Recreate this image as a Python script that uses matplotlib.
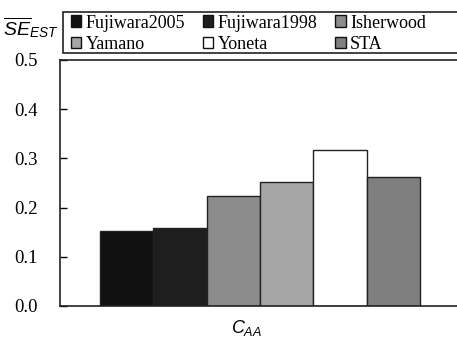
import matplotlib.pyplot as plt
from matplotlib.patches import Patch, Rectangle

# Données
methodes = ["Fujiwara2005", "Fujiwara1998", "Isherwood", "Yamano", "Yoneta", "STA"]
valeurs = [0.152, 0.159, 0.224, 0.253, 0.318, 0.263]
couleurs = ["#111111", "#1e1e1e", "#8c8c8c", "#a6a6a6", "#ffffff", "#7f7f7f"]
yticks = [0.0, 0.1, 0.2, 0.3, 0.4, 0.5]

plt.rcParams['mathtext.fontset'] = 'custom'
plt.rcParams['mathtext.it'] = 'Liberation Sans:italic'
plt.rcParams['mathtext.rm'] = 'Liberation Sans'

W, H = 457, 340
fig = plt.figure(figsize=(W / 100, H / 100), dpi=100)
# l'axe dépasse à droite de l'image (figure rognée)
ax = fig.add_axes([60 / W, 1 - 306 / H, (475 - 60) / W, (306 - 60) / H])

pos = list(range(len(methodes)))
ax.bar(pos, valeurs, width=1.0, color=couleurs, edgecolor="#222222", linewidth=1.0)

ax.set_xlim(-1.25, -1.25 + (475 - 60) / 53.33)
ax.set_ylim(0, 0.5)
ax.set_yticks(yticks)
ax.set_yticklabels([f"{v:.1f}" for v in yticks], family="Liberation Serif", fontsize=13.5)
ax.tick_params(axis='y', direction='in', length=5, width=1, pad=16)
ax.set_xticks([])
for s in ["left", "top", "bottom", "right"]:
    ax.spines[s].set_linewidth(1.2)
    ax.spines[s].set_color("#222222")

fig.text(247 / W, 1 - 328 / H, r"$C_{AA}$", fontsize=13, ha="center", va="center")
fig.text(31 / W, 1 - 28 / H, r"$\overline{SE}_{EST}$", fontsize=14, ha="center", va="center")

# Légende sur 2 lignes (ordre par ligne), cadre dessiné à part car il sort de l'image
fig.patches.append(Rectangle((63 / W, 1 - 53 / H), (480 - 63) / W, 41 / H, transform=fig.transFigure,
                             facecolor="white", edgecolor="#222222", linewidth=1.2))
ordre = [0, 3, 1, 4, 2, 5]
handles = [Patch(facecolor=couleurs[i], edgecolor="#111111", linewidth=1.0, label=methodes[i]) for i in ordre]
leg = fig.legend(handles=handles, ncol=3, loc="upper left",
                 bbox_to_anchor=(66 / W, 1 - 10 / H),
                 prop={"family": "Liberation Serif", "size": 13}, frameon=False,
                 handlelength=0.6, handleheight=0.6, handletextpad=0.25, borderaxespad=0,
                 labelspacing=0.25, borderpad=0.25, columnspacing=0.95)

fig.savefig("out.png", dpi=100)
